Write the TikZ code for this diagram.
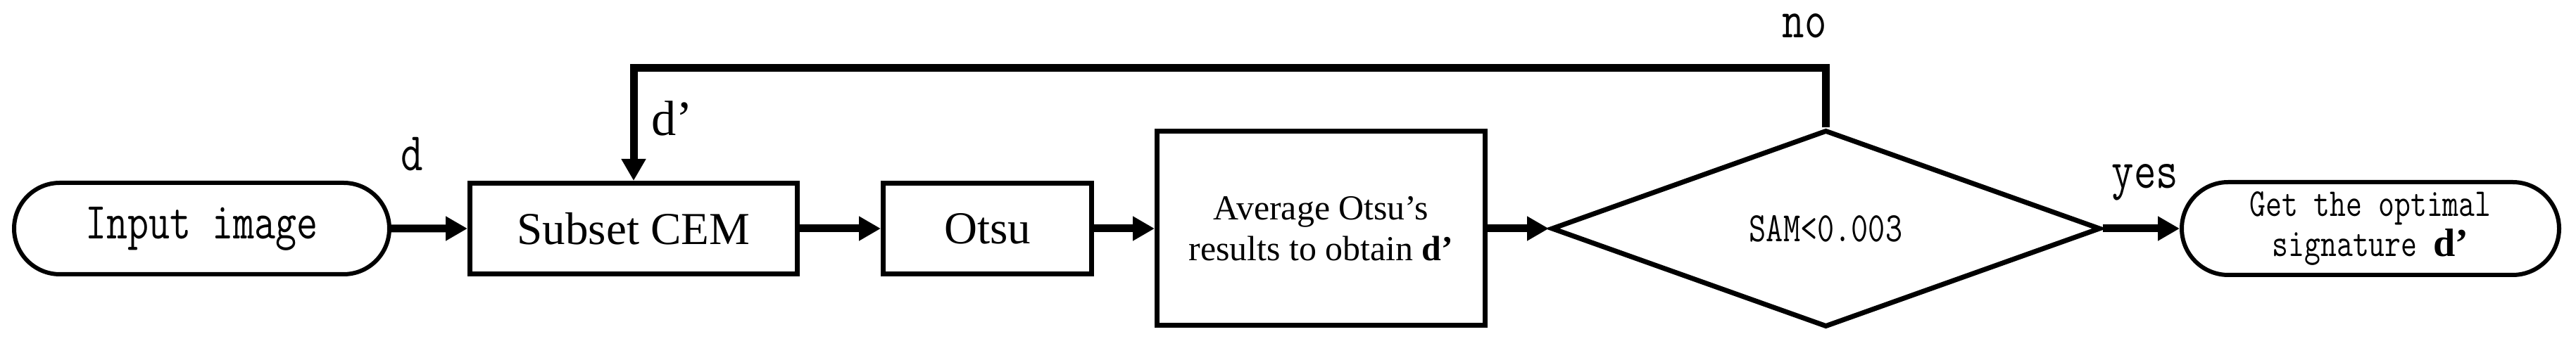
\documentclass[tikz,border=0pt]{standalone}
\usepackage{fontspec}
\setmainfont{Liberation Serif}
\newfontfamily\simfont[FakeStretch=0.79]{Latin Modern Mono}
\usetikzlibrary{positioning,shapes.geometric,shapes.misc,arrows.meta}
\newcommand{\Dp}{\textbf{d’}}
\newcommand{\fsz}[2]{\fontsize{#1}{#2}\selectfont}
\tikzset{
  block/.style={draw, line width=0.07cm, minimum height=1.29cm, inner sep=0pt, align=center},
  terminal/.style={draw, rounded rectangle, line width=0.06cm, minimum height=1.30cm,
    inner sep=0pt, align=center},
  decision/.style={draw, diamond, line width=0.07cm, inner sep=0pt},
  flow/.style={line width=0.11cm, -{Triangle[length=0.31cm,width=0.33cm]}},
  mono/.style={font=\simfont\fsz{22pt}{24pt}, inner sep=1pt}
}

\begin{document}
\begin{tikzpicture}
  \useasboundingbox (0,0) rectangle (36.59,-4.92);

  \node [terminal, minimum width=5.33cm, font=\simfont\fsz{21pt}{23pt}] (in) at (2.865,-3.25) {Input image};
  \node [block, minimum width=4.65cm, right=1.08cm of in, font=\fsz{18.5pt}{20pt}] (cem) {Subset CEM};
  \node [block, minimum width=2.96cm, right=1.15cm of cem, font=\fsz{18.5pt}{20pt}] (otsu) {Otsu};
  \node [block, minimum width=4.66cm, minimum height=2.76cm, right=0.86cm of otsu,
    font=\fsz{14.2pt}{16.5pt}] (avg) {Average Otsu’s\\results to obtain \Dp};
  \node [decision, minimum width=7.80cm, minimum height=2.80cm, right=0.87cm of avg,
    font=\simfont\fsz{16.9pt}{18pt}] (sam) {SAM<0.003};
  \node [terminal, minimum width=5.36cm, minimum height=1.32cm, right=1.09cm of sam,
    font=\simfont\fsz{16pt}{16.2pt}] (get) {Get the optimal\\signature {\rmfamily\Dp}};

  \draw [flow] (in) -- (cem);
  \draw [flow] (cem) -- (otsu);
  \draw [flow] (otsu) -- (avg);
  \draw [flow] (avg) -- (sam);
  \draw [flow] (sam) -- (get);
  \draw [flow] (sam.north) -- ++(0,0.85) -| (cem.north);

  \node [mono, anchor=base] (lbld) at (5.85,-2.43) {d};
  \node [font=\fsz{20pt}{22pt}, anchor=base] (lbldp) at (9.55,-1.93) {d’};
  \node [mono, anchor=base] (lblno) at (25.63,-0.54) {no};
  \node [mono, anchor=base] (lblyes) at (30.47,-2.68) {yes};
\end{tikzpicture}
\end{document}
